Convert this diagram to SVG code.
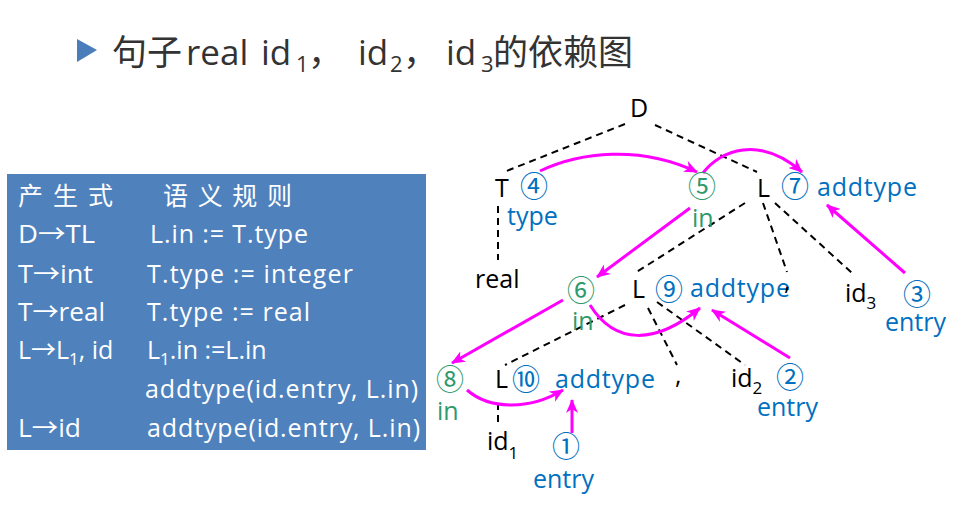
<svg xmlns="http://www.w3.org/2000/svg" width="958" height="508" viewBox="0 0 958 508">
<defs>
<style>
.lat{font-family:"Open Sans","Noto Sans","Noto Sans CJK SC",sans-serif;}
.cjk{font-family:"Noto Sans CJK SC","Noto Sans",sans-serif;}
.title{font-size:35px;fill:#333333;}
.tbl{font-size:25px;fill:#ffffff;}
.blk{font-size:25px;fill:#000000;}
.blu{font-size:25px;fill:#0070C0;}
.grn{font-size:25px;fill:#2E9A6C;}
.num{font-size:28px;}
.sub{font-size:17px;}
.dash{stroke:#000;stroke-width:2;stroke-dasharray:7 5;fill:none;}
.dep{stroke:#FF00FF;stroke-width:3;fill:none;marker-end:url(#ah);}
</style>
<marker id="ah" viewBox="0 0 14 12" refX="13" refY="6" markerWidth="14" markerHeight="12" markerUnits="userSpaceOnUse" orient="auto">
<path d="M0,0 L14,6 L0,12 L4,6 z" fill="#FF00FF"/>
</marker>
</defs>
<rect width="958" height="508" fill="#ffffff"/>

<g id="title">
<polygon points="77,39 97,50 77,62" fill="#4A7EBB"/>
<text class="title" y="65"><tspan class="cjk" x="112">句子</tspan><tspan class="lat" x="186">real</tspan><tspan class="lat" x="261">id</tspan><tspan class="lat" x="296" y="72" font-size="22">1</tspan><tspan class="cjk" x="308" y="65">，</tspan><tspan class="lat" x="358">id</tspan><tspan class="lat" x="390" y="72" font-size="22">2</tspan><tspan class="cjk" x="403" y="65">，</tspan><tspan class="lat" x="446">id</tspan><tspan class="lat" x="481" y="72" font-size="22">3</tspan><tspan class="cjk" x="493" y="65">的依赖图</tspan></text>
</g>

<g id="rules">
<rect x="7" y="174" width="419" height="276" fill="#4F81BD"/>
<text class="cjk tbl" x="18" y="205" textLength="95" lengthAdjust="spacing">产生式</text>
<text class="cjk tbl" x="163" y="205" textLength="129" lengthAdjust="spacing">语义规则</text>
<text class="lat tbl" x="18" y="243" textLength="77" lengthAdjust="spacingAndGlyphs">D→TL</text>
<text class="lat tbl" x="150" y="243" textLength="158" lengthAdjust="spacing">L.in := T.type</text>
<text class="lat tbl" x="18" y="283" textLength="75" lengthAdjust="spacingAndGlyphs">T→int</text>
<text class="lat tbl" x="147" y="283" textLength="206" lengthAdjust="spacing">T.type := integer</text>
<text class="lat tbl" x="18" y="321" textLength="87" lengthAdjust="spacingAndGlyphs">T→real</text>
<text class="lat tbl" x="147" y="321" textLength="163" lengthAdjust="spacing">T.type := real</text>
<text class="lat tbl" x="18" y="359">L→L<tspan class="sub" dy="6">1</tspan><tspan dy="-6">, id</tspan></text>
<text class="lat tbl" x="147" y="359">L<tspan class="sub" dy="6">1</tspan><tspan dy="-6">.in :=L.in</tspan></text>
<text class="lat tbl" x="145" y="398" textLength="273" lengthAdjust="spacing">addtype(id.entry, L.in)</text>
<text class="lat tbl" x="18" y="437" textLength="63" lengthAdjust="spacingAndGlyphs">L→id</text>
<text class="lat tbl" x="147" y="437" textLength="273" lengthAdjust="spacing">addtype(id.entry, L.in)</text>
</g>

<g id="connectors">
<line class="dash" x1="625" y1="124" x2="504" y2="172"/>
<line class="dash" x1="655" y1="125" x2="757" y2="172"/>
<line class="dash" x1="498" y1="206" x2="498" y2="260"/>
<line class="dash" x1="745" y1="203" x2="635" y2="273"/>
<line class="dash" x1="763" y1="203" x2="787" y2="272"/>
<line class="dash" x1="775" y1="203" x2="852" y2="273"/>
<line class="dash" x1="625" y1="305" x2="505" y2="365"/>
<line class="dash" x1="648" y1="308" x2="677" y2="365"/>
<line class="dash" x1="657" y1="302" x2="745" y2="365"/>
<line class="dash" x1="498" y1="403" x2="498" y2="424"/>

<path class="dep" d="M540,171 C580,152 640,145 697,172"/>
<path class="dep" d="M703,173 C720,150 760,135 802,172"/>
<path class="dep" d="M690,208 L597,277"/>
<path class="dep" d="M905,273 L827,205"/>
<path class="dep" d="M563,300 L452,363"/>
<path class="dep" d="M590,305 C615,345 655,345 700,308"/>
<path class="dep" d="M790,358 L712,310"/>
<path class="dep" d="M467,390 C490,410 530,410 563,390"/>
<path class="dep" d="M572,433 L572,400"/>
</g>

<g id="node-D"><text class="lat blk" x="630" y="117">D</text></g>

<g id="node-T">
<text class="lat blk" x="495" y="197">T</text>
<text class="cjk blu num" x="534" y="197" text-anchor="middle">④</text>
<text class="lat blu" x="507" y="225">type</text>
</g>

<g id="node-real"><text class="lat blk" x="475" y="288">real</text></g>

<g id="node-L-top">
<text class="cjk grn num" x="702" y="197" text-anchor="middle">⑤</text>
<text class="lat grn" x="692" y="227">in</text>
<text class="lat blk" x="757" y="197">L</text>
<text class="cjk blu num" x="795" y="197" text-anchor="middle">⑦</text>
<text class="lat blu" x="817" y="196" textLength="100" lengthAdjust="spacing">addtype</text>
</g>

<g id="node-L-mid">
<text class="cjk grn num" x="581" y="301" text-anchor="middle">⑥</text>
<text class="lat grn" x="572" y="330">in</text>
<text class="lat blk" x="632" y="298">L</text>
<text class="cjk blu num" x="669" y="300" text-anchor="middle">⑨</text>
<text class="lat blu" x="690" y="297" textLength="100" lengthAdjust="spacing">addtype</text>
</g>

<g id="node-comma-top"><text class="lat blk" x="784" y="290" font-size="22">,</text></g>

<g id="node-id3">
<text class="lat blk" x="845" y="302">id<tspan class="sub" dy="7">3</tspan></text>
<text class="cjk blu num" x="917" y="305" text-anchor="middle">③</text>
<text class="lat blu" x="885" y="331">entry</text>
</g>

<g id="node-L-bot">
<text class="cjk grn num" x="450" y="390" text-anchor="middle">⑧</text>
<text class="lat grn" x="437" y="420">in</text>
<text class="lat blk" x="495" y="388">L</text>
<text class="cjk blu num" x="526" y="390" text-anchor="middle">⑩</text>
<text class="lat blu" x="555" y="388" textLength="100" lengthAdjust="spacing">addtype</text>
</g>

<g id="node-comma-bot"><text class="lat blk" x="675" y="384" font-size="22">,</text></g>

<g id="node-id2">
<text class="lat blk" x="731" y="387">id<tspan class="sub" dy="7">2</tspan></text>
<text class="cjk blu num" x="790" y="388" text-anchor="middle">②</text>
<text class="lat blu" x="757" y="416">entry</text>
</g>

<g id="node-id1">
<text class="lat blk" x="487" y="450">id<tspan class="sub" dy="9">1</tspan></text>
<text class="cjk blu num" x="566" y="457" text-anchor="middle">①</text>
<text class="lat blu" x="533" y="488">entry</text>
</g>
</svg>
